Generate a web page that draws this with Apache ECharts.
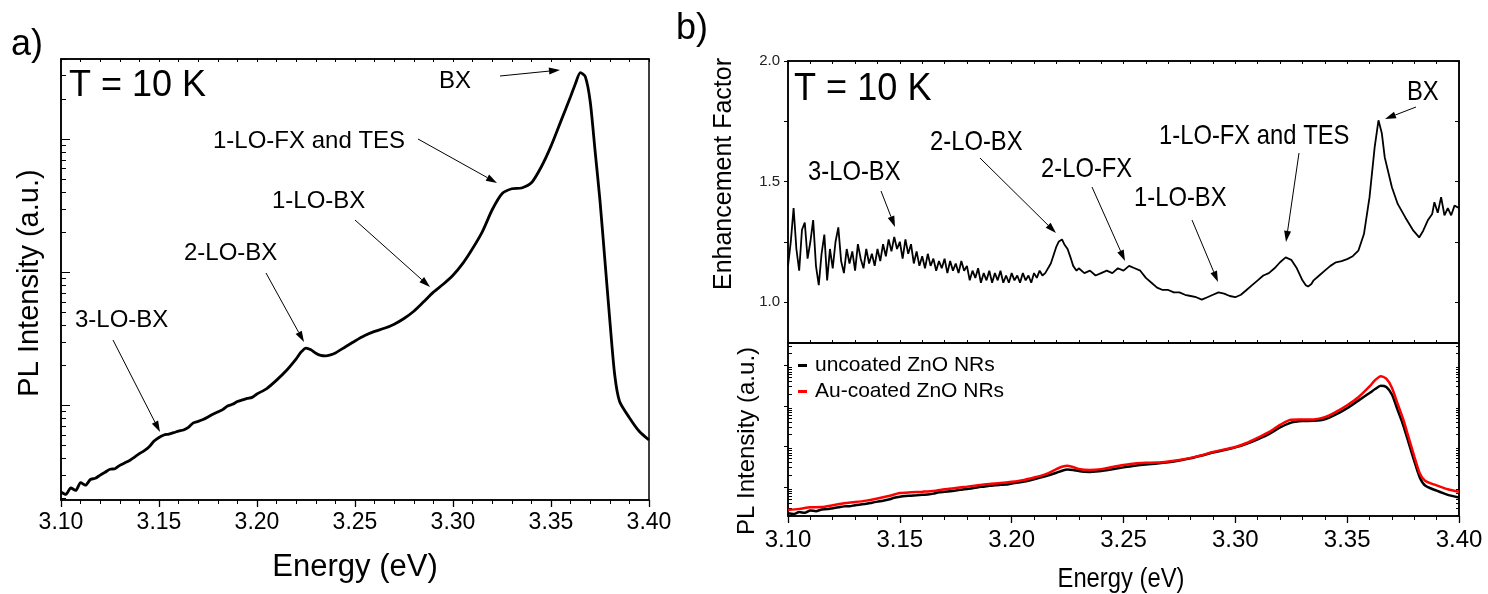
<!DOCTYPE html>
<html><head><meta charset="utf-8">
<script src="https://cdn.jsdelivr.net/npm/echarts@6/dist/echarts.min.js"></script>
<style>html,body{margin:0;padding:0;background:#fff}#c{width:1488px;height:594px}</style>
</head><body><div id="c"></div>
<script>
// ---- Panel a / uncoated spectrum (PL intensity, a.u.) ----
const energyA = [
  3.100,3.1025,3.105,3.1075,3.110,3.1125,3.115,3.1175,3.120,3.1225,
  3.125,3.1275,3.130,3.1325,3.135,3.1375,3.140,3.1425,3.145,3.1475,
  3.150,3.1525,3.155,3.1575,3.160,3.1625,3.165,3.1675,3.170,3.1725,
  3.175,3.1775,3.180,3.1825,3.185,3.1875,3.190,3.1925,3.195,3.1975,
  3.200,3.205,3.210,3.215,3.220,3.2225,3.225,3.2275,3.230,3.2325,
  3.235,3.2375,3.240,3.245,3.250,3.255,3.260,3.265,3.270,3.275,
  3.280,3.285,3.290,3.295,3.300,3.305,3.310,3.315,3.320,3.325,
  3.330,3.335,3.340,3.345,3.350,3.355,3.360,3.3625,3.365,3.3675,
  3.370,3.3725,3.375,3.3775,3.380,3.3825,3.385,3.390,3.395,3.400
];
const intensityA = [
  22.4,21.5,24.0,23.0,26.3,25.2,27.8,28.4,30.0,31.5,
  33.2,33.5,35.5,37.0,38.6,41.0,43.5,45.8,49.0,54.0,
  57.5,60.0,61.0,62.5,64.2,65.5,68.5,74.0,76.0,78.5,
  82.0,86.0,89.5,93.0,99.0,102,107,110,113,115,
  122,134,155,183,224,252,270,262,247,238,
  236,240,248,275,305,335,360,380,408,450,
  510,600,710,813,950,1167,1510,2023,2950,3890,
  4240,4300,4700,6180,8870,13600,20900,26200,31600,29500,
  19200,8130,3440,1230,438,170,107,81,64,55
];
// ---- Panel b top: enhancement factor ----
const energyEF = [
  3.10000,3.10125,3.10250,3.10375,3.10500,3.10625,3.10750,3.10875,3.11000,3.11125,
  3.11250,3.11375,3.11500,3.11625,3.11750,3.11875,3.12000,3.12125,3.12250,3.12375,
  3.12500,3.12625,3.12750,3.12875,3.13000,3.13125,3.13250,3.13375,3.13500,3.13625,
  3.13750,3.13875,3.14000,3.14125,3.14250,3.14375,3.14500,3.14625,3.14750,3.14875,
  3.15000,3.15125,3.15250,3.15375,3.15500,3.15625,3.15750,3.15875,3.16000,3.16125,
  3.16250,3.16375,3.16500,3.16625,3.16750,3.16875,3.17000,3.17125,3.17250,3.17375,
  3.17500,3.17625,3.17750,3.17875,3.18000,3.18125,3.18250,3.18375,3.18500,3.18625,
  3.18750,3.18875,3.19000,3.19125,3.19250,3.19375,3.19500,3.19625,3.19750,3.19875,
  3.20000,3.20125,3.20250,3.20375,3.20500,3.20625,3.20750,3.20875,3.21000,3.21125,
  3.21250,3.21375,3.21500,3.2175,3.2200,3.2210,3.2225,3.2235,3.2250,3.2265,
  3.2275,3.2290,3.2300,3.2325,3.2350,3.2375,3.2400,3.2425,3.2450,3.2475,
  3.2500,3.2525,3.2550,3.2575,3.2600,3.2625,3.2650,3.2675,3.2700,3.2725,
  3.2750,3.2775,3.2800,3.2825,3.2850,3.2875,3.2900,3.2925,3.2950,3.2975,
  3.3000,3.3025,3.3050,3.3075,3.3100,3.3125,3.3150,3.3175,3.3200,3.3225,
  3.3250,3.3275,3.3300,3.3315,3.3325,3.3340,3.3350,3.3375,3.3400,3.3425,
  3.3450,3.3475,3.3500,3.3525,3.3550,3.3575,3.3600,3.3623,3.3640,3.3655,
  3.3668,3.3700,3.3726,3.3760,3.3796,3.3822,3.3840,3.3860,3.3880,3.3890,
  3.3905,3.3920,3.3935,3.3950,3.3965,3.3980,3.4000
];
const enhancement = [
  1.15,1.25,1.39,1.22,1.13,1.30,1.33,1.18,1.25,1.34,
  1.15,1.07,1.20,1.28,1.09,1.22,1.14,1.25,1.31,1.17,
  1.12,1.22,1.16,1.21,1.13,1.24,1.18,1.14,1.22,1.16,
  1.20,1.15,1.22,1.17,1.24,1.19,1.26,1.21,1.27,1.22,
  1.25,1.18,1.26,1.20,1.24,1.16,1.21,1.15,1.19,1.14,
  1.20,1.15,1.18,1.13,1.17,1.14,1.18,1.12,1.17,1.13,
  1.16,1.12,1.17,1.13,1.15,1.09,1.13,1.10,1.14,1.08,
  1.12,1.09,1.13,1.08,1.12,1.09,1.13,1.08,1.11,1.08,
  1.12,1.09,1.11,1.08,1.12,1.09,1.11,1.08,1.12,1.10,
  1.13,1.11,1.12,1.16,1.23,1.25,1.26,1.24,1.22,1.18,
  1.15,1.13,1.14,1.12,1.13,1.11,1.12,1.13,1.12,1.14,
  1.13,1.15,1.14,1.13,1.10,1.08,1.06,1.05,1.05,1.04,
  1.04,1.03,1.025,1.02,1.01,1.02,1.03,1.04,1.035,1.025,
  1.02,1.03,1.05,1.07,1.09,1.11,1.12,1.14,1.165,1.185,
  1.175,1.14,1.09,1.07,1.064,1.075,1.09,1.11,1.13,1.15,
  1.165,1.17,1.178,1.19,1.213,1.282,1.435,1.643,1.754,1.70,
  1.60,1.476,1.407,1.351,1.296,1.268,1.296,1.338,1.365,1.414,
  1.37,1.435,1.36,1.39,1.36,1.40,1.39
];
// ---- Panel b bottom: Au-coated spectrum ----
const energyAu = [
  3.100,3.105,3.110,3.115,3.120,3.125,3.130,3.135,3.140,3.145,
  3.150,3.155,3.160,3.165,3.170,3.175,3.180,3.185,3.190,3.195,
  3.200,3.205,3.210,3.215,3.220,3.2225,3.225,3.230,3.235,3.240,
  3.245,3.250,3.255,3.260,3.265,3.270,3.275,3.280,3.285,3.290,
  3.295,3.300,3.305,3.310,3.315,3.320,3.325,3.330,3.335,3.340,
  3.345,3.350,3.355,3.360,3.3625,3.365,3.3675,3.370,3.3725,3.375,
  3.3775,3.380,3.3825,3.385,3.390,3.395,3.400
];
const intensityAu = [
  27,28.8,31.5,32,35.4,39.5,42.3,46,51.8,59.8,
  70.7,73.8,76.4,79.5,87.4,94.3,102,111,119,125,
  134,147,171,205,276,315,335,279,264,276,
  311,348,382,396,401,427,466,523,609,731,
  846,969,1220,1646,2266,3422,4590,4622,4666,5311,
  7200,10470,16460,30500,43500,54700,47200,28400,11600,4780,
  1660,574,216,140,110,88,76
];
// ---- tick values ----
const logMajorTicks = [100, 1000, 10000, 100000];
const logMinorTicks = [20,30,40,50,60,70,80,90,
  200,300,400,500,600,700,800,900,
  2000,3000,4000,5000,6000,7000,8000,9000,
  20000,30000,40000,50000,60000,70000,80000,90000,200000,300000];
const efLabelTicks = [1.0, 1.5, 2.0];
const efTicks = [1.0, 1.25, 1.5, 1.75, 2.0];
const seriesNames = ['uncoated ZnO NRs', 'Au-coated ZnO NRs'];

const F = '"Liberation Sans", Arial, sans-serif';
const BLACK = '#000';
const pair = (xs, ys) => xs.map((x, i) => [x, ys[i]]);
const line = { show: true, onZero: false, lineStyle: { color: BLACK, width: 1.5 } };

function arrow(x1, y1, x2, y2) {
  const dx = x2 - x1, dy = y2 - y1, L = Math.hypot(dx, dy), ux = dx / L, uy = dy / L;
  const head = 11, hw = 3.5;
  const bx = x2 - ux * head, by = y2 - uy * head;
  return { type: 'group', silent: true, children: [
    { type: 'line', shape: { x1: x1, y1: y1, x2: bx, y2: by }, style: { stroke: BLACK, lineWidth: 1 } },
    { type: 'polygon', shape: { points: [[x2, y2], [bx - uy * hw, by + ux * hw], [bx + uy * hw, by - ux * hw]] }, style: { fill: BLACK } }
  ]};
}
function txt(s, x, y, size, opts) {
  opts = opts || {};
  return { type: 'text', x: x, y: y, rotation: opts.rot || 0, scaleX: opts.sx || 1, silent: true,
    style: { text: s, fill: BLACK, fontFamily: F, fontSize: size,
      align: opts.align || 'left', verticalAlign: 'middle' } };
}
const NARROW = 0.85;

const chart = echarts.init(document.getElementById('c'), null, { renderer: 'canvas' });
const mirrorX = (grid, pos) => ({ gridIndex: grid, type: 'value', position: pos, min: 3.10, max: 3.40, interval: 0.01,
  axisLine: line, axisTick: { show: true, inside: true, length: 3, lineStyle: { color: BLACK, width: 1 } },
  axisLabel: { show: false }, splitLine: { show: false } });
const mainX = (grid, size, margin) => ({ gridIndex: grid, type: 'value', position: 'bottom', min: 3.10, max: 3.40, interval: 0.05,
  axisLine: line, axisTick: { show: true, inside: false, length: 7, lineStyle: { color: BLACK, width: 1.3 } },
  minorTick: { show: true, splitNumber: 5, length: 4, lineStyle: { color: BLACK, width: 1 } },
  axisLabel: { show: true, formatter: v => v.toFixed(2), fontFamily: F, fontSize: size, color: BLACK, margin: margin },
  splitLine: { show: false } });
const logY = (grid, pos, min, max, ticks, inside, len, showLine) => ({ gridIndex: grid, type: 'log', logBase: 10,
  position: pos, min: min, max: max,
  axisLine: showLine ? line : { show: false },
  axisTick: { show: true, inside: inside, length: len, customValues: ticks, lineStyle: { color: BLACK, width: 1 } },
  axisLabel: { show: false }, splitLine: { show: false }, minorTick: { show: false } });

chart.setOption({
  animation: false,
  backgroundColor: '#fff',
  grid: [
    { left: 61, top: 59, width: 588, height: 441, show: true, borderColor: BLACK, borderWidth: 1.5 },
    { left: 788, top: 61, width: 671, height: 282, show: true, borderColor: BLACK, borderWidth: 1.5 },
    { left: 788, top: 343, width: 671, height: 173, show: true, borderColor: BLACK, borderWidth: 1.5 }
  ],
  xAxis: [ mainX(0, 23, 11), mirrorX(0, 'top'), mirrorX(1, 'bottom'), mirrorX(1, 'top'), mainX(2, 24, 12) ],
  yAxis: [
    logY(0, 'left', 19.5, 40000, logMajorTicks, true, 9, true),
    logY(0, 'left', 19.5, 40000, logMinorTicks, true, 5, false),
    { gridIndex: 1, type: 'value', position: 'left', min: 0.83, max: 2.0, axisLine: line,
      axisTick: { show: true, inside: false, length: 4, customValues: efTicks, lineStyle: { color: BLACK } },
      axisLabel: { show: true, customValues: efLabelTicks, formatter: v => v.toFixed(1), fontFamily: F, fontSize: 15, color: '#222', margin: 8 },
      splitLine: { show: false } },
    { gridIndex: 1, type: 'value', position: 'right', min: 0.83, max: 2.0, axisLine: line,
      axisTick: { show: true, inside: true, length: 4, customValues: efTicks, lineStyle: { color: BLACK } },
      axisLabel: { show: false }, splitLine: { show: false } },
    logY(2, 'left', 19.2, 360000, logMajorTicks, false, 4, true),
    logY(2, 'left', 19.2, 360000, logMinorTicks, true, 4, false),
    logY(2, 'right', 19.2, 360000, logMinorTicks, true, 3, true)
  ],
  legend: {
    data: seriesNames, left: 798, top: 355, orient: 'vertical', padding: 0,
    icon: 'rect', itemWidth: 9, itemHeight: 3, itemGap: 5,
    textStyle: { fontFamily: F, fontSize: 21, color: BLACK, padding: [0, 0, 0, 3] }
  },
  series: [
    { type: 'line', xAxisIndex: 0, yAxisIndex: 0, data: pair(energyA, intensityA), symbol: 'none', smooth: 0.25,
      lineStyle: { color: BLACK, width: 2.8 }, silent: true },
    { type: 'line', xAxisIndex: 2, yAxisIndex: 2, data: pair(energyEF, enhancement), symbol: 'none',
      lineStyle: { color: BLACK, width: 1.8 }, silent: true },
    { name: seriesNames[0], type: 'line', xAxisIndex: 4, yAxisIndex: 4, data: pair(energyA, intensityA), symbol: 'none', smooth: 0.25,
      itemStyle: { color: BLACK }, lineStyle: { color: BLACK, width: 2.5 }, silent: true },
    { name: seriesNames[1], type: 'line', xAxisIndex: 4, yAxisIndex: 4, data: pair(energyAu, intensityAu), symbol: 'none', smooth: 0.25,
      itemStyle: { color: '#ff0000' }, lineStyle: { color: '#ff0000', width: 2.5 }, silent: true }
  ],
  graphic: [
    // panel a
    txt('a)', 11, 45, 36),
    txt('T = 10 K', 69, 86, 36),
    txt('BX', 439, 81, 24),
    txt('1-LO-FX and TES', 213, 141, 24),
    txt('1-LO-BX', 272, 201, 24),
    txt('2-LO-BX', 184, 253, 24),
    txt('3-LO-BX', 75, 320, 24),
    arrow(500, 76, 560, 70),
    arrow(418, 139, 497, 183),
    arrow(355, 220, 430, 287),
    arrow(266, 273, 304, 342),
    arrow(113, 340, 160, 432),
    txt('Energy (eV)', 355, 567, 31, { align: 'center' }),
    txt('PL Intensity (a.u.)', 30, 283, 29, { align: 'center', rot: Math.PI / 2 }),
    // panel b
    txt('b)', 676, 29, 36),
    txt('T = 10 K', 794, 90, 38, { sx: 0.95 }),
    txt('BX', 1407, 92, 28, { sx: NARROW }),
    txt('1-LO-FX and TES', 1159, 136, 28, { sx: NARROW }),
    txt('2-LO-BX', 930, 142, 28, { sx: NARROW }),
    txt('2-LO-FX', 1041, 169, 28, { sx: NARROW }),
    txt('3-LO-BX', 808, 172, 28, { sx: NARROW }),
    txt('1-LO-BX', 1134, 198, 28, { sx: NARROW }),
    arrow(1416, 107, 1385, 119),
    arrow(1299, 153, 1286, 242),
    arrow(980, 158, 1056, 233),
    arrow(1092, 187, 1125, 261),
    arrow(881, 191, 895, 227),
    arrow(1192, 220, 1218, 282),
    txt('Enhancement Factor', 724, 174, 25, { align: 'center', rot: Math.PI / 2 }),
    txt('PL Intensity (a.u.)', 747, 441, 24, { align: 'center', rot: Math.PI / 2 }),
    txt('Energy (eV)', 1121, 579, 28, { align: 'center', sx: NARROW })
  ]
});
</script></body></html>
